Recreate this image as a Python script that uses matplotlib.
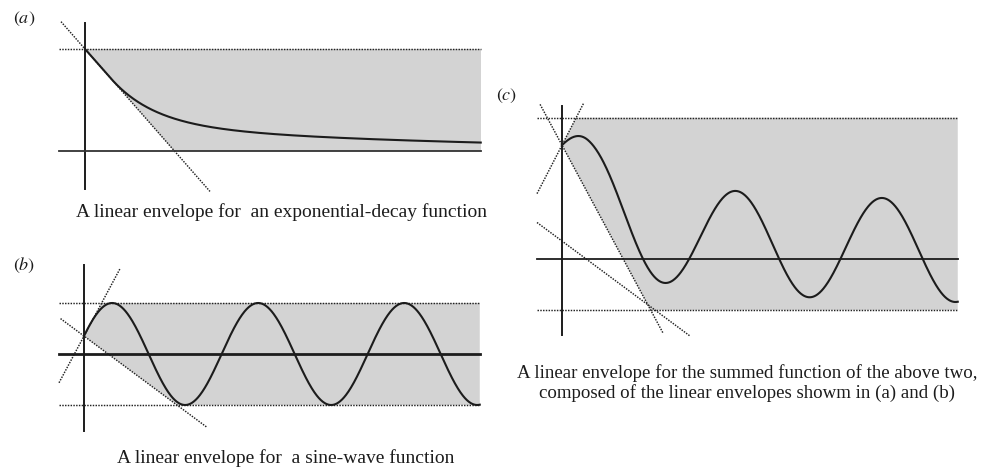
import numpy as np
import matplotlib
matplotlib.use('Agg')
import matplotlib.pyplot as plt

plt.rcParams['font.family'] = ['Liberation Serif', 'DejaVu Serif']
plt.rcParams['mathtext.fontset'] = 'stix'

# figure size in pixels, and pixels per drawing unit (same on both axes)
W, H = 985, 471
UNIT = 51.0

# exponential-decay function: slow tail + fast part that starts straight
decay_tail_amp = 0.549
decay_tail_len = 6.47
decay_fast_amp = 1.451
decay_fast_slope = 1.055
decay_fast_len = 0.863

# sine-wave function
sine_amp = 1.0
sine_period = 2.863
sine_phase = 0.36

# envelope slopes for the sine wave in (b)
b_up_slope = 1.87
b_down_slope = -0.742

# summed function in (c)
c_decay_scale = 0.94
c_top = 2.77
c_bottom = -1.0
c_up_slope = 1.94
c_down_slope = -1.86

t_end = 7.76

captions = ['A linear envelope for  an exponential-decay function',
            'A linear envelope for  a sine-wave function',
            'A linear envelope for the summed function of the above two,\n'
            'composed of the linear envelopes showm in (a) and (b)']
panel_labels = ['a', 'b', 'c']

gray = '#d3d3d3'
ink = '#1c1c1c'
dot_kw = dict(color='#222222', lw=1.05, ls=(0, (1.0, 0.9)), zorder=2)


def decay(t):
    t = np.asarray(t, dtype=float)
    knee = (decay_fast_amp - decay_fast_slope * decay_fast_len) / decay_fast_slope
    at_knee = decay_fast_amp - decay_fast_slope * knee
    fast = np.where(t <= knee, decay_fast_amp - decay_fast_slope * t,
                    at_knee * np.exp(-(t - knee) / decay_fast_len))
    return decay_tail_amp * np.exp(-t / decay_tail_len) + fast


def sine(t):
    return sine_amp * np.sin(2 * np.pi * np.asarray(t) / sine_period + sine_phase)


def panel_axes(fig, origin, xlim, ylim):
    # origin = pixel position of (0, 0), measured from the top-left corner
    ox, oy = origin
    left = ox + xlim[0] * UNIT
    top = oy - ylim[1] * UNIT
    w = (xlim[1] - xlim[0]) * UNIT
    h = (ylim[1] - ylim[0]) * UNIT
    ax = fig.add_axes([left / W, 1 - (top + h) / H, w / W, h / H])
    ax.set_xlim(xlim)
    ax.set_ylim(ylim)
    ax.axis('off')
    return ax


fig = plt.figure(figsize=(W / 100, H / 100), dpi=100)
t = np.linspace(0, t_end, 800)

# ---- (a) exponential decay
ax = panel_axes(fig, (85, 151), (-0.6, 7.9), (-0.8, 2.6))
h0 = decay(0)
tan_a = decay_fast_slope + decay_tail_amp / decay_tail_len
t_cross = h0 / tan_a
ax.fill([0, t_end, t_end, t_cross], [h0, h0, 0, 0], color=gray, lw=0, zorder=1)
ax.plot([-0.51, t_end], [h0, h0], **dot_kw)
xs = np.array([-0.47, 2.45])
ax.plot(xs, h0 - tan_a * xs, **dot_kw)
ax.plot([0, 0], [-0.75, 2.51], color=ink, lw=1.4, zorder=3)
ax.plot([-0.51, t_end], [0, 0], color='#333333', lw=1.3, zorder=3)
ax.plot(t, decay(t), color=ink, lw=1.5, zorder=4)

# ---- (b) sine wave
ax = panel_axes(fig, (84, 354), (-0.6, 7.9), (-1.6, 1.85))
s0 = sine(0)
t_top = (sine_amp - s0) / b_up_slope
t_bot = (-sine_amp - s0) / b_down_slope
ax.fill([t_top, t_end, t_end, t_bot, 0], [sine_amp, sine_amp, -sine_amp, -sine_amp, s0],
        color=gray, lw=0, zorder=1)
ax.plot([-0.49, t_end], [sine_amp, sine_amp], **dot_kw)
ax.plot([-0.49, t_end], [-sine_amp, -sine_amp], **dot_kw)
xs = np.array([-0.49, 0.71])
ax.plot(xs, s0 + b_up_slope * xs, **dot_kw)
xs = np.array([-0.46, 2.41])
ax.plot(xs, s0 + b_down_slope * xs, **dot_kw)
ax.plot([0, 0], [-1.51, 1.745], color=ink, lw=1.4, zorder=3)
ax.plot([-0.49, t_end], [0, 0], color=ink, lw=2.0, zorder=3)
ax.plot(t, sine(t), color=ink, lw=1.5, zorder=4)

# ---- (c) sum of the two
ax = panel_axes(fig, (562, 259), (-0.6, 7.9), (-1.6, 3.1))
summed = lambda x: c_decay_scale * decay(x) + sine(x)
c0 = summed(0)
t_top = (c_top - c0) / c_up_slope
t_bot = (c_bottom - c0) / c_down_slope
ax.fill([t_top, t_end, t_end, t_bot, 0], [c_top, c_top, c_bottom, c_bottom, c0],
        color=gray, lw=0, zorder=1)
ax.plot([-0.49, t_end], [c_top, c_top], **dot_kw)
ax.plot([-0.49, t_end], [c_bottom, c_bottom], **dot_kw)
xs = np.array([-0.49, 0.43])
ax.plot(xs, c0 + c_up_slope * xs, **dot_kw)
xs = np.array([-0.43, 1.98])
ax.plot(xs, c0 + c_down_slope * xs, **dot_kw)
xs = np.array([-0.49, 2.51])
ax.plot(xs, s0 + b_down_slope * xs, **dot_kw)
ax.plot([0, 0], [-1.49, 3.0], color=ink, lw=1.4, zorder=3)
ax.plot([-0.49, t_end], [0, 0], color=ink, lw=1.3, zorder=3)
ax.plot(t, summed(t), color=ink, lw=1.5, zorder=4)

# ---- labels and captions
label_pos = [(24, 19), (24, 265), (507, 96)]
for lab, (px, py) in zip(panel_labels, label_pos):
    fig.text(px / W, 1 - py / H, '$(' + lab + ')$', fontsize=13, color=ink,
             ha='center', va='center')

caption_pos = [(281, 212), (286, 458), (747, 383)]
caption_size = [14, 14, 13.6]
for cap, (px, py), fs in zip(captions, caption_pos, caption_size):
    fig.text(px / W, 1 - py / H, cap, fontsize=fs, color=ink,
             ha='center', va='center', linespacing=1.18)

fig.savefig('out.png', dpi=100)
